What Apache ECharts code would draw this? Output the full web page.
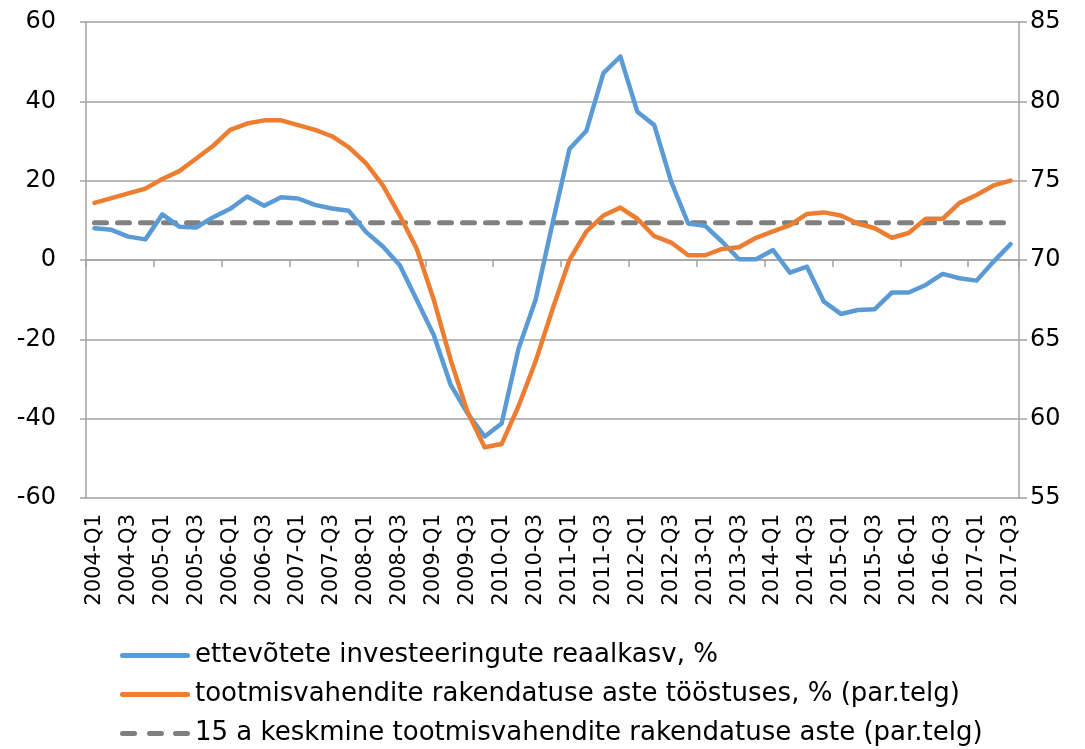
<!DOCTYPE html>
<html lang="et">

<head>
  <meta charset="UTF-8" />
  <title>Investeeringud ja tootmisvahendite rakendatus</title>
  <script src="https://cdn.jsdelivr.net/npm/echarts@6.0.0/dist/echarts.min.js"></script>
  <style>
    body {
      margin: 0;
      background: #fff;
    }

    #chart {
      width: 1085px;
      height: 749px;
    }
  </style>
</head>

<body>
  <div id="chart"></div>

  <script>
    const quarters = [
      '2004-Q1', '2004-Q2', '2004-Q3', '2004-Q4', '2005-Q1', '2005-Q2', '2005-Q3', '2005-Q4',
      '2006-Q1', '2006-Q2', '2006-Q3', '2006-Q4', '2007-Q1', '2007-Q2', '2007-Q3', '2007-Q4',
      '2008-Q1', '2008-Q2', '2008-Q3', '2008-Q4', '2009-Q1', '2009-Q2', '2009-Q3', '2009-Q4',
      '2010-Q1', '2010-Q2', '2010-Q3', '2010-Q4', '2011-Q1', '2011-Q2', '2011-Q3', '2011-Q4',
      '2012-Q1', '2012-Q2', '2012-Q3', '2012-Q4', '2013-Q1', '2013-Q2', '2013-Q3', '2013-Q4',
      '2014-Q1', '2014-Q2', '2014-Q3', '2014-Q4', '2015-Q1', '2015-Q2', '2015-Q3', '2015-Q4',
      '2016-Q1', '2016-Q2', '2016-Q3', '2016-Q4', '2017-Q1', '2017-Q2', '2017-Q3'
    ];

    // ettevõtete investeeringute reaalkasv, % (vasak telg)
    const investGrowth = [
      8.0, 7.6, 5.9, 5.2, 11.5, 8.4, 8.2, 10.8, 12.9, 16.0, 13.7, 15.8, 15.5, 13.9,
      13.0, 12.4, 7.1, 3.4, -1.3, -10.1, -18.9, -31.5, -38.7, -44.5, -41.2, -22.3, -10.1, 9.2,
      28.0, 32.6, 47.1, 51.3, 37.4, 34.0, 19.7, 9.2, 8.6, 4.6, 0.2, 0.2, 2.5, -3.2,
      -1.7, -10.5, -13.6, -12.6, -12.4, -8.2, -8.2, -6.3, -3.5, -4.6, -5.2, -0.4, 4.0
    ];

    // tootmisvahendite rakendatuse aste, % (parem telg)
    const capacityUse = [
      73.6, 73.9, 74.2, 74.5, 75.1, 75.6, 76.4, 77.2, 78.2, 78.6, 78.8, 78.8, 78.5, 78.2,
      77.8, 77.1, 76.1, 74.7, 72.8, 70.7, 67.5, 63.7, 60.4, 58.2, 58.4, 60.8, 63.6, 66.9,
      70.0, 71.8, 72.8, 73.3, 72.6, 71.5, 71.1, 70.3, 70.3, 70.7, 70.8, 71.4, 71.8, 72.2,
      72.9, 73.0, 72.8, 72.3, 72.0, 71.4, 71.7, 72.6, 72.6, 73.6, 74.1, 74.7, 75.0
    ];

    // 15 a keskmine rakendatuse aste
    const avgCapacityUse = 72.35;
    const avgLine = quarters.map(() => avgCapacityUse);

    const names = [
      'ettevõtete investeeringute reaalkasv, %',
      'tootmisvahendite rakendatuse aste tööstuses, % (par.telg)',
      '15 a keskmine tootmisvahendite rakendatuse aste (par.telg)'
    ];

    const gridGray = '#A3A3A3';
    const font = '"DejaVu Sans", sans-serif';

    // legendi ikoonid: paks joon ja kriipsjoon
    const solidIcon = 'path://M2.5,0h65a2.5,2.5 0 0 1 0,5h-65a2.5,2.5 0 0 1 0,-5z';
    const dashIcon = 'path://M2.5,0h12a2.5,2.5 0 0 1 0,5h-12a2.5,2.5 0 0 1 0,-5z' +
      'M29.5,0h12a2.5,2.5 0 0 1 0,5h-12a2.5,2.5 0 0 1 0,-5z' +
      'M55.5,0h12a2.5,2.5 0 0 1 0,5h-12a2.5,2.5 0 0 1 0,-5z';

    const chart = echarts.init(document.getElementById('chart'));

    chart.setOption({
      backgroundColor: '#fff',
      animation: false,
      grid: { left: 86, right: 66, top: 22, bottom: 251 },
      legend: {
        orient: 'vertical',
        left: 120,
        top: 641,
        padding: 0,
        itemWidth: 70,
        itemHeight: 5,
        itemGap: 10,
        textStyle: { fontFamily: font, fontSize: 26, color: '#000', lineHeight: 29 },
        data: [
          { name: names[0], icon: solidIcon },
          { name: names[1], icon: solidIcon },
          { name: names[2], icon: dashIcon }
        ]
      },
      xAxis: [{
        type: 'category',
        data: quarters,
        position: 'bottom',
        axisLine: { show: false },
        axisTick: { show: false },
        axisLabel: {
          interval: 1,
          rotate: 90,
          margin: 16,
          fontFamily: font,
          fontSize: 21,
          color: '#000'
        }
      }, {
        // telg nulli kohal koos jaotistega
        type: 'category',
        data: quarters,
        position: 'bottom',
        axisLine: { onZero: true, onZeroAxisIndex: 0, lineStyle: { color: gridGray, width: 1.5 } },
        axisTick: { show: true, length: 7, lineStyle: { color: gridGray, width: 1.5 } },
        axisLabel: { show: false }
      }],
      yAxis: [{
        type: 'value',
        min: -60,
        max: 60,
        interval: 20,
        axisLine: { show: true, lineStyle: { color: gridGray, width: 1.5 } },
        axisTick: { show: true, length: 6, lineStyle: { color: gridGray, width: 1.5 } },
        splitLine: { lineStyle: { color: gridGray, width: 1.5 } },
        axisLabel: { margin: 30, fontFamily: font, fontSize: 24, color: '#000' }
      }, {
        type: 'value',
        min: 55,
        max: 85,
        interval: 5,
        position: 'right',
        axisLine: { show: true, lineStyle: { color: gridGray, width: 1.5 } },
        axisTick: { show: true, length: 8, lineStyle: { color: gridGray, width: 1.5 } },
        splitLine: { show: false },
        axisLabel: { margin: 11, fontFamily: font, fontSize: 24, color: '#000' }
      }],
      series: [{
        name: names[0],
        type: 'line',
        xAxisIndex: 0,
        yAxisIndex: 0,
        data: investGrowth,
        symbol: 'none',
        lineStyle: { color: '#5B9BD5', width: 4.5, cap: 'round', join: 'round' },
        itemStyle: { color: '#5B9BD5' },
        z: 3
      }, {
        name: names[1],
        type: 'line',
        xAxisIndex: 0,
        yAxisIndex: 1,
        data: capacityUse,
        symbol: 'none',
        lineStyle: { color: '#ED7D31', width: 4.5, cap: 'round', join: 'round' },
        itemStyle: { color: '#ED7D31' },
        z: 4
      }, {
        name: names[2],
        type: 'line',
        xAxisIndex: 0,
        yAxisIndex: 1,
        data: avgLine,
        symbol: 'none',
        lineStyle: { color: '#808080', width: 5, type: [12, 11], cap: 'round' },
        itemStyle: { color: '#808080' },
        z: 2
      }]
    });

    window.addEventListener('resize', () => chart.resize());
  </script>
</body>

</html>
